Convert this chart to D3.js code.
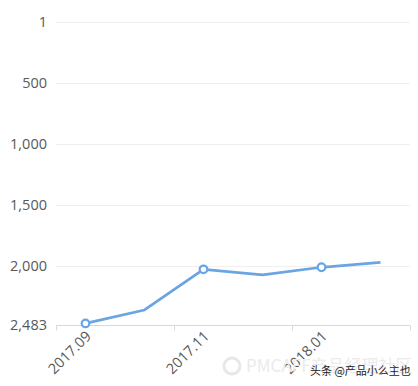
<!DOCTYPE html>
<html>
<head>
<meta charset="utf-8">
<script src="https://cdn.jsdelivr.net/npm/d3@7"></script>
<style>
  body { margin: 0; background: #fff; }
  svg { display: block; font-family: "Open Sans", "Noto Sans", sans-serif; }
</style>
</head>
<body>
<div id="chart"></div>
<script>
// Chart data
const months = ['2017.09', '2017.10', '2017.11', '2017.12', '2018.01', '2018.02'];
const ranks = [2470, 2360, 2027, 2073, 2010, 1970];
const yTicks = [1, 500, 1000, 1500, 2000, 2483];
const labelledMonths = ['2017.09', '2017.11', '2018.01'];

const width = 418, height = 386;
const margin = { top: 22, right: 8, bottom: 61, left: 56 };

const svg = d3.select('#chart').append('svg')
    .attr('width', width)
    .attr('height', height);

const x = d3.scaleBand()
    .domain(months)
    .range([margin.left, width - margin.right]);

// rank axis is reversed: 1 at top
const y = d3.scaleLinear()
    .domain([1, 2483])
    .range([margin.top, height - margin.bottom]);

// gridlines
svg.append('g')
    .selectAll('line')
    .data(yTicks.slice(0, -1))
    .join('line')
    .attr('x1', margin.left)
    .attr('x2', x.range()[1])
    .attr('y1', d => Math.round(y(d)) + 0.5)
    .attr('y2', d => Math.round(y(d)) + 0.5)
    .attr('stroke', '#efefef');

// y labels
svg.append('g')
    .selectAll('text')
    .data(yTicks)
    .join('text')
    .attr('x', 47)
    .attr('y', d => y(d))
    .attr('dy', '0.35em')
    .attr('text-anchor', 'end')
    .attr('font-size', 14.5)
    .attr('fill', '#595959')
    .text(d => d3.format(',')(d));

// x axis line and ticks every two months
const xAxisY = Math.round(y(2483)) + 0.5;
svg.append('line')
    .attr('x1', margin.left)
    .attr('x2', x.range()[1])
    .attr('y1', xAxisY)
    .attr('y2', xAxisY)
    .attr('stroke', '#d9d9d9');

const tickXs = months.filter((m, i) => i % 2 === 0).map(m => x(m)).concat([x.range()[1]]);
svg.append('g')
    .selectAll('line')
    .data(tickXs)
    .join('line')
    .attr('x1', d => Math.round(d) + 0.5)
    .attr('x2', d => Math.round(d) + 0.5)
    .attr('y1', xAxisY)
    .attr('y2', xAxisY + 5)
    .attr('stroke', '#d9d9d9');

// x labels, rotated
svg.append('g')
    .selectAll('text')
    .data(labelledMonths)
    .join('text')
    .attr('transform', d => `translate(${x(d) + x.bandwidth() / 2 + 3},${xAxisY + 8}) rotate(-45)`)
    .attr('text-anchor', 'end')
    .attr('dy', '0.35em')
    .attr('font-size', 14.5)
    .attr('fill', '#595959')
    .text(d => d);

// line
const line = d3.line()
    .x((d, i) => x(months[i]) + x.bandwidth() / 2)
    .y(d => y(d));

svg.append('path')
    .datum(ranks)
    .attr('d', line)
    .attr('fill', 'none')
    .attr('stroke', '#6aa5e2')
    .attr('stroke-width', 2.75)
    .attr('stroke-linejoin', 'round');

// markers on every other month
svg.append('g')
    .selectAll('circle')
    .data(ranks.map((r, i) => ({ m: months[i], r })).filter(d => labelledMonths.includes(d.m)))
    .join('circle')
    .attr('cx', d => x(d.m) + x.bandwidth() / 2)
    .attr('cy', d => y(d.r))
    .attr('r', 3.8)
    .attr('fill', '#fff')
    .attr('stroke', '#6aa5e2')
    .attr('stroke-width', 2.2);

// watermarks
svg.append('circle')
    .attr('cx', 232).attr('cy', 366).attr('r', 8)
    .attr('fill', 'none').attr('stroke', '#e8e8e8').attr('stroke-width', 3);
svg.append('text')
    .attr('x', 246).attr('y', 372)
    .attr('font-size', 17)
    .attr('fill', '#ebebeb')
    .attr('font-family', '"Noto Sans CJK SC", sans-serif')
    .text('PMCAFF产品经理社区');
svg.append('text')
    .attr('x', 310).attr('y', 375)
    .attr('font-size', 11)
    .attr('fill', '#222')
    .attr('font-family', '"Noto Sans CJK SC", sans-serif')
    .text('头条 @产品小么主也');
</script>
</body>
</html>
